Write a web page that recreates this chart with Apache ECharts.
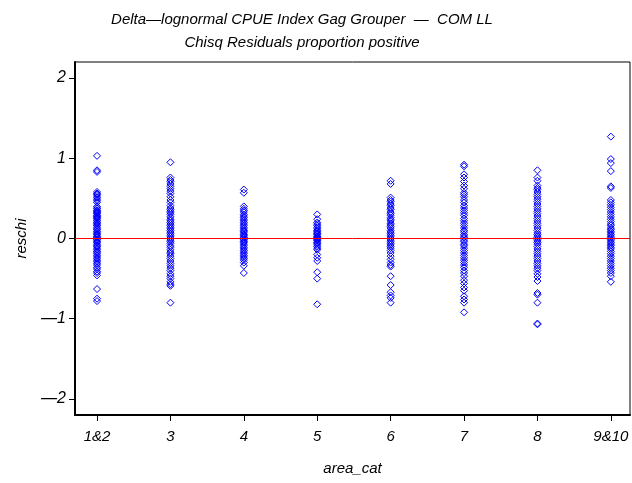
<!DOCTYPE html>
<html>
<head>
<meta charset="utf-8">
<script src="https://cdn.jsdelivr.net/npm/echarts@6/dist/echarts.min.js"></script>
<style>html,body{margin:0;padding:0;background:#fff}#c{width:632px;height:483px}</style>
</head>
<body>
<div id="c"></div>
<script>
var titleLine1 = "Delta\u2014lognormal CPUE Index Gag Grouper  \u2014  COM LL";
var titleLine2 = "Chisq Residuals proportion positive";
var xName = "area_cat";
var yName = "reschi";
var categories = ["1&2", "3", "4", "5", "6", "7", "8", "9&10"];
var yTicks = [-2, -1, 0, 1, 2];

var area12 = [1.03, 0.85, 0.83, 0.58, 0.56, 0.55, 0.53, 0.51, 0.49, 0.47, 0.45, 0.40, 0.38, 0.37, 0.35, 0.34, 0.33, 0.32, 0.31, 0.29, 0.28, 0.27, 0.26, 0.25, 0.23, 0.22, 0.20, 0.19, 0.17, 0.16, 0.14, 0.12, 0.11, 0.09, 0.08, 0.06, 0.05, 0.03, 0.02, 0.01, -0.01, -0.02, -0.04, -0.05, -0.07, -0.09, -0.10, -0.12, -0.14, -0.16, -0.17, -0.19, -0.21, -0.23, -0.25, -0.27, -0.29, -0.31, -0.33, -0.36, -0.38, -0.41, -0.43, -0.46, -0.63, -0.75, -0.78];
var area3 = [0.95, 0.76, 0.73, 0.71, 0.68, 0.65, 0.62, 0.59, 0.56, 0.52, 0.48, 0.45, 0.41, 0.38, 0.36, 0.34, 0.32, 0.30, 0.27, 0.24, 0.22, 0.20, 0.18, 0.16, 0.14, 0.12, 0.10, 0.08, 0.06, 0.04, 0.02, 0.00, -0.02, -0.04, -0.06, -0.09, -0.11, -0.14, -0.17, -0.19, -0.22, -0.25, -0.28, -0.31, -0.34, -0.37, -0.40, -0.44, -0.47, -0.50, -0.54, -0.57, -0.59, -0.80];
var area4 = [0.61, 0.57, 0.40, 0.37, 0.35, 0.33, 0.30, 0.28, 0.26, 0.24, 0.22, 0.20, 0.18, 0.16, 0.14, 0.12, 0.10, 0.09, 0.07, 0.05, 0.04, 0.02, 0.01, -0.01, -0.02, -0.04, -0.05, -0.07, -0.09, -0.11, -0.13, -0.15, -0.17, -0.19, -0.21, -0.23, -0.25, -0.27, -0.30, -0.34, -0.43];
var area5 = [0.30, 0.24, 0.20, 0.18, 0.16, 0.14, 0.12, 0.10, 0.09, 0.07, 0.06, 0.05, 0.03, 0.02, 0.01, 0.00, -0.01, -0.02, -0.03, -0.05, -0.06, -0.08, -0.10, -0.12, -0.14, -0.20, -0.24, -0.28, -0.42, -0.50, -0.82];
var area6 = [0.72, 0.68, 0.51, 0.48, 0.46, 0.43, 0.41, 0.38, 0.36, 0.33, 0.31, 0.29, 0.26, 0.24, 0.22, 0.19, 0.17, 0.15, 0.13, 0.10, 0.08, 0.06, 0.04, 0.02, 0.00, -0.02, -0.04, -0.06, -0.08, -0.10, -0.12, -0.15, -0.18, -0.22, -0.26, -0.30, -0.33, -0.35, -0.47, -0.58, -0.67, -0.71, -0.74, -0.80];
var area7 = [0.92, 0.90, 0.80, 0.76, 0.71, 0.66, 0.62, 0.57, 0.55, 0.52, 0.48, 0.45, 0.41, 0.38, 0.35, 0.32, 0.29, 0.25, 0.22, 0.19, 0.16, 0.13, 0.10, 0.08, 0.05, 0.03, 0.01, -0.02, -0.04, -0.07, -0.09, -0.12, -0.15, -0.18, -0.21, -0.24, -0.27, -0.30, -0.33, -0.36, -0.40, -0.43, -0.47, -0.52, -0.56, -0.61, -0.65, -0.72, -0.76, -0.80, -0.92];
var area8 = [0.85, 0.76, 0.72, 0.66, 0.63, 0.61, 0.58, 0.55, 0.52, 0.49, 0.46, 0.43, 0.40, 0.37, 0.34, 0.31, 0.28, 0.25, 0.22, 0.19, 0.16, 0.13, 0.10, 0.07, 0.05, 0.03, 0.01, -0.01, -0.03, -0.05, -0.07, -0.10, -0.13, -0.16, -0.19, -0.22, -0.25, -0.28, -0.31, -0.34, -0.37, -0.40, -0.44, -0.48, -0.53, -0.68, -0.70, -0.80, -1.06, -1.07];
var area910 = [1.27, 0.99, 0.94, 0.84, 0.65, 0.63, 0.48, 0.45, 0.42, 0.39, 0.36, 0.33, 0.30, 0.27, 0.24, 0.21, 0.18, 0.16, 0.13, 0.11, 0.09, 0.07, 0.05, 0.03, 0.01, -0.01, -0.03, -0.05, -0.07, -0.09, -0.11, -0.13, -0.16, -0.19, -0.22, -0.25, -0.28, -0.31, -0.34, -0.37, -0.40, -0.43, -0.47, -0.54];

var groups = [area12, area3, area4, area5, area6, area7, area8, area910];
var points = [];
groups.forEach(function (g, i) {
  g.forEach(function (v) { points.push([i + 1, v]); });
});

var font = "Liberation Sans, Arial, sans-serif";
var chart = echarts.init(document.getElementById('c'), null, {renderer: 'canvas'});
chart.setOption({
  animation: false,
  backgroundColor: '#ffffff',
  title: [
    {text: titleLine1, left: 297, top: 7, textAlign: 'center',
     textStyle: {fontFamily: font, fontStyle: 'italic', fontWeight: 'normal', fontSize: 15, color: '#000'}},
    {text: titleLine2, left: 297, top: 30, textAlign: 'center',
     textStyle: {fontFamily: font, fontStyle: 'italic', fontWeight: 'normal', fontSize: 15, color: '#000'}}
  ],
  grid: {left: 75, right: 2, top: 62, bottom: 68, show: true, borderColor: '#000', borderWidth: 1},
  xAxis: {
    type: 'value', min: 0.7, max: 8.261,
    name: xName, nameLocation: 'middle', nameGap: 46,
    nameTextStyle: {fontFamily: font, fontStyle: 'italic', fontSize: 15, color: '#000'},
    axisLine: {show: true, onZero: false, lineStyle: {color: '#000', width: 2}},
    axisTick: {show: true, length: 6, customValues: [1, 2, 3, 4, 5, 6, 7, 8], lineStyle: {color: '#000'}},
    axisLabel: {customValues: [1, 2, 3, 4, 5, 6, 7, 8], margin: 14,
      fontFamily: font, fontStyle: 'italic', fontSize: 15, color: '#000',
      formatter: function (v) { return categories[Math.round(v) - 1]; }},
    splitLine: {show: false}
  },
  yAxis: {
    type: 'value', min: -2.2, max: 2.2,
    name: yName, nameLocation: 'middle', nameGap: 46,
    nameTextStyle: {fontFamily: font, fontStyle: 'italic', fontSize: 15, color: '#000'},
    axisLine: {show: true, onZero: false, lineStyle: {color: '#000', width: 2}},
    axisTick: {show: true, length: 6, customValues: yTicks, lineStyle: {color: '#000'}},
    axisLabel: {customValues: yTicks, margin: 9,
      fontFamily: font, fontStyle: 'italic', fontSize: 16, color: '#000',
      formatter: function (v) { return v < 0 ? '\u2014' + Math.abs(v) : String(v); }},
    splitLine: {show: false}
  },
  series: [{
    type: 'scatter',
    data: points,
    symbol: 'diamond',
    symbolSize: 7,
    itemStyle: {color: 'rgba(0,0,0,0)', borderColor: '#0000ff', borderWidth: 1, opacity: 1},
    markLine: {
      silent: true, symbol: 'none', label: {show: false},
      lineStyle: {color: '#ff0000', width: 1, type: 'solid'},
      data: [{yAxis: 0}]
    }
  }]
});
</script>
</body>
</html>
